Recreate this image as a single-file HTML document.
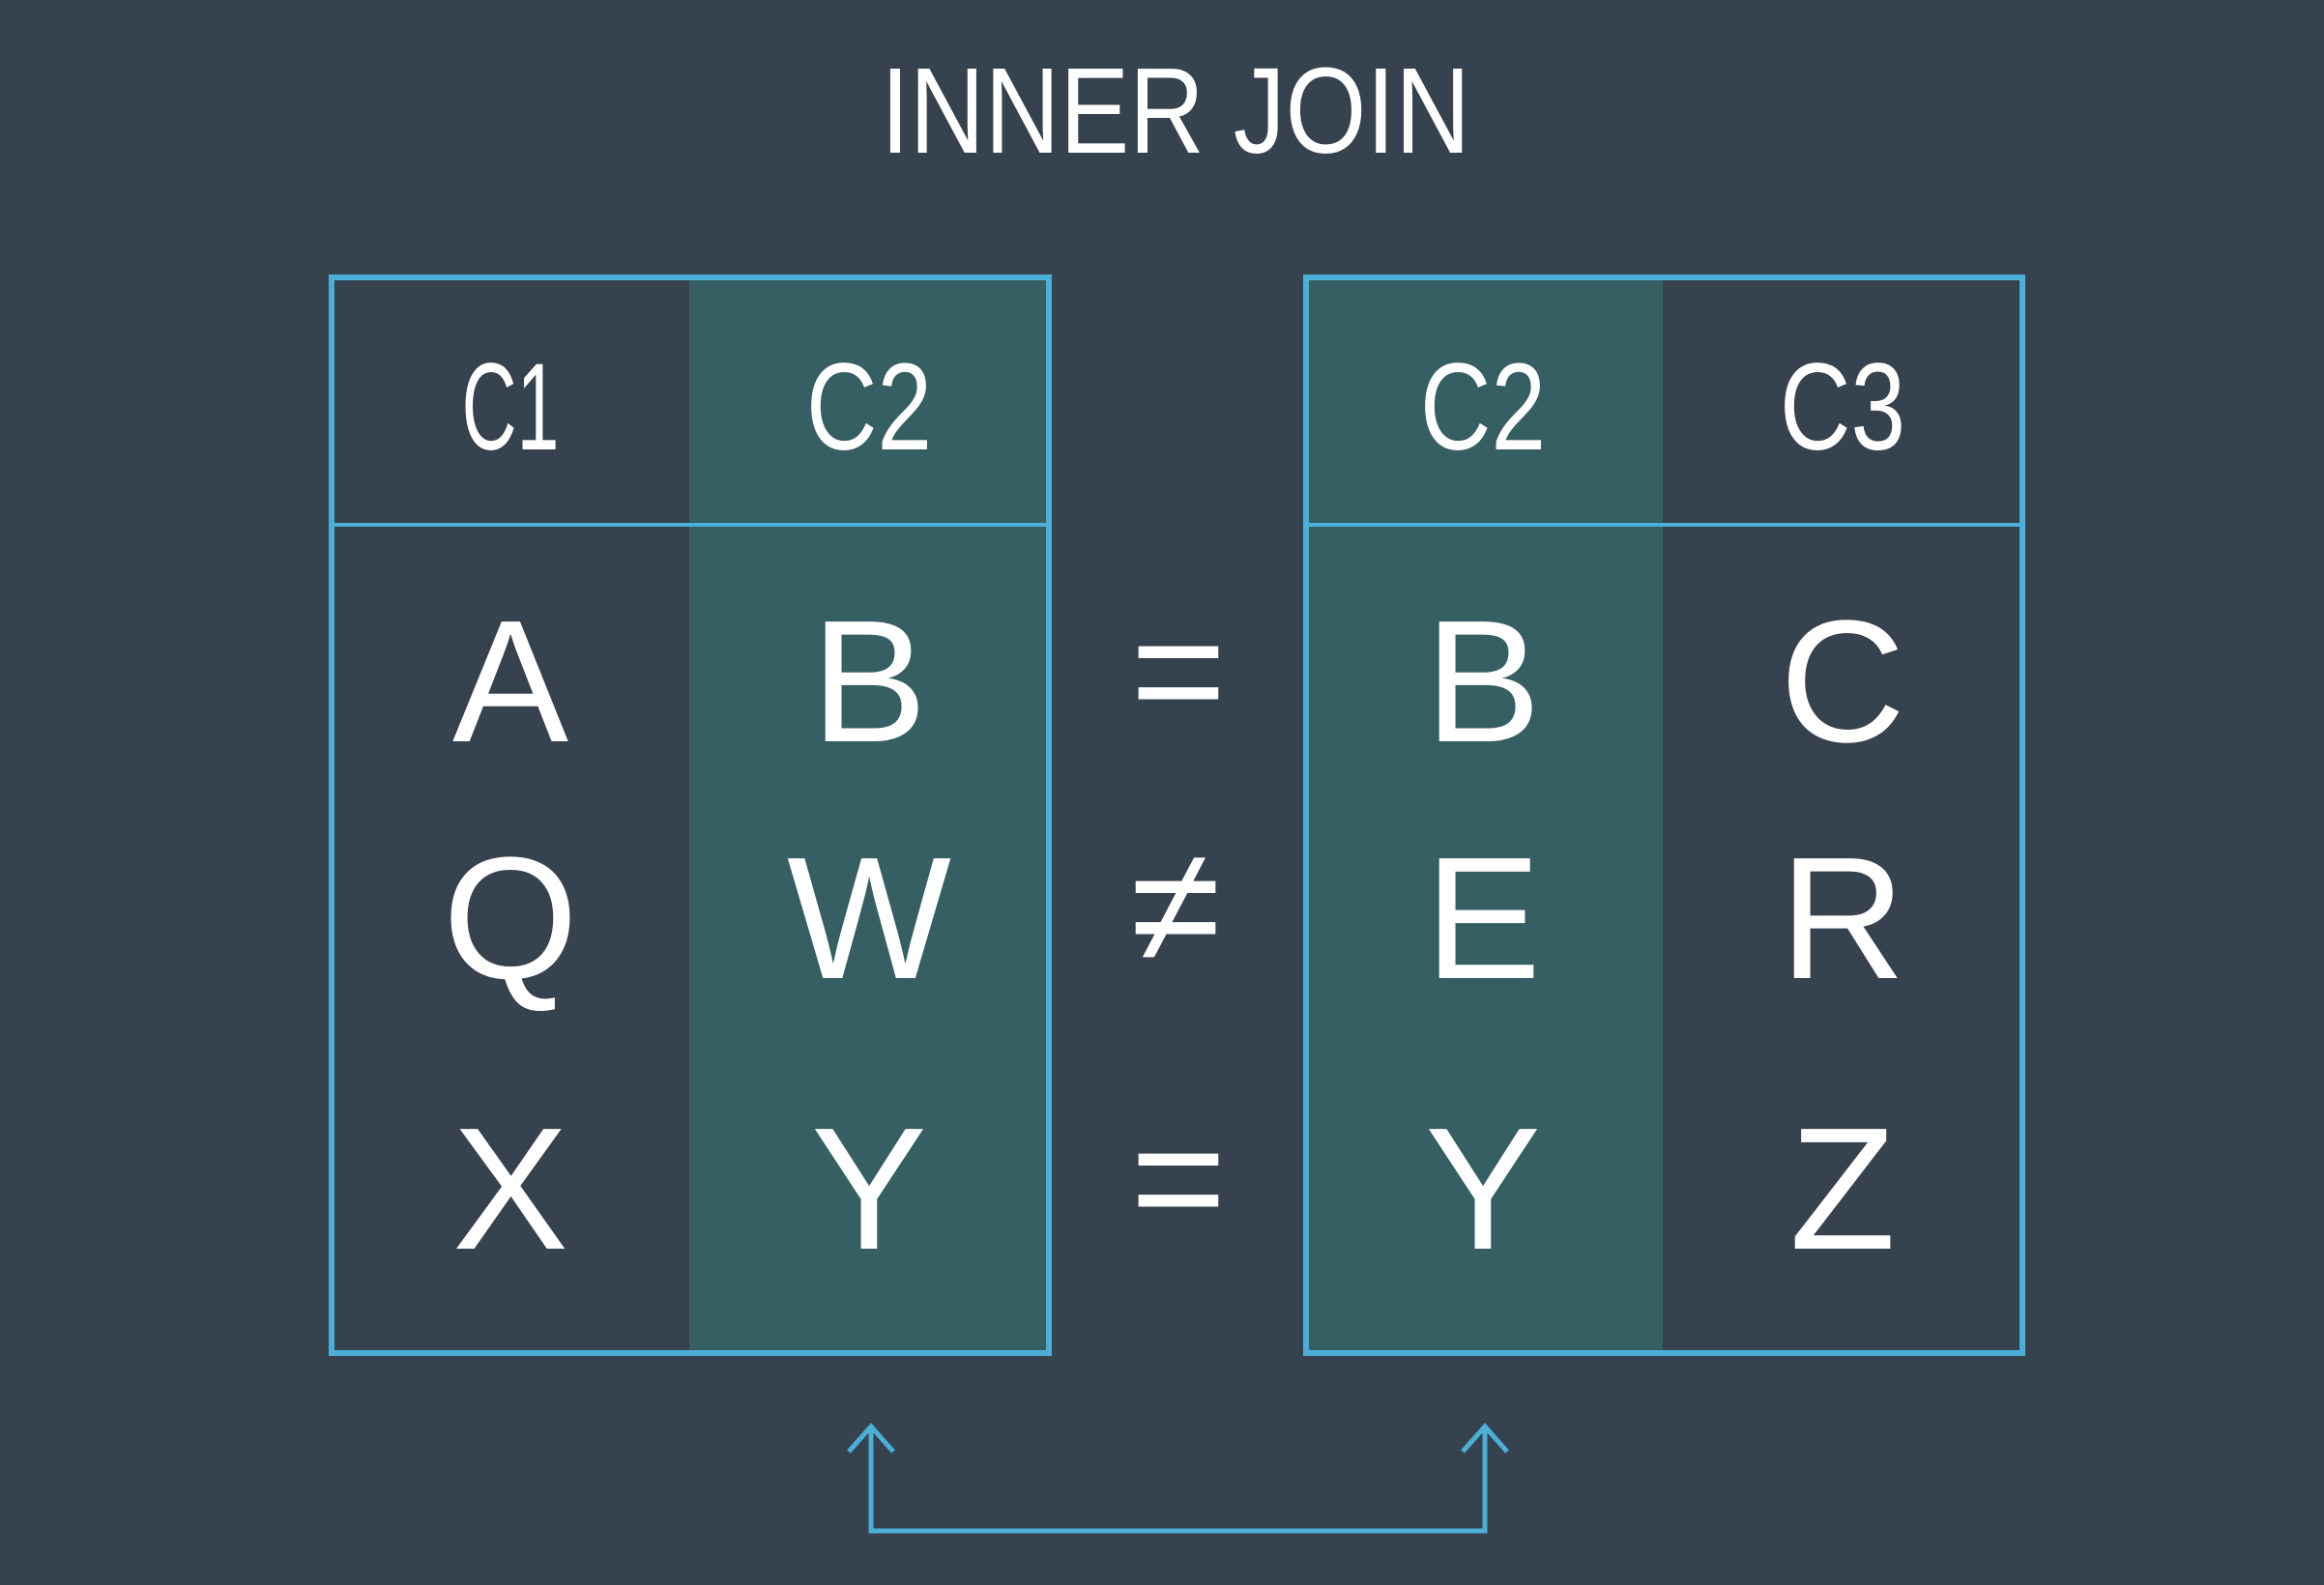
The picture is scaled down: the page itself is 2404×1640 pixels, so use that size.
<!DOCTYPE html>
<html><head><meta charset="utf-8"><style>
html,body{margin:0;padding:0;background:#36434f;}
svg{display:block}
text{font-family:"Liberation Sans",sans-serif;fill:#ffffff;text-anchor:middle}
</style></head><body>
<svg width="2404" height="1640" viewBox="0 0 2404 1640">
<rect x="0" y="0" width="2404" height="1640" fill="#36434f"/>
<text x="1216" y="158" font-size="126" textLength="610" lengthAdjust="spacingAndGlyphs">INNER JOIN</text>

<g>
<rect x="713" y="284" width="372" height="1116" fill="#365f63"/>
<rect x="343" y="287" width="742" height="1113" fill="none" stroke="#4bafd8" stroke-width="6"/>
<line x1="343" y1="543" x2="1085" y2="543" stroke="#4bafd8" stroke-width="4"/>
<text x="528" y="465" font-size="128" textLength="101" lengthAdjust="spacingAndGlyphs">C1</text>
<text x="899" y="465" font-size="128" textLength="130" lengthAdjust="spacingAndGlyphs">C2</text>
<text x="528" y="767" font-size="180">A</text>
<text x="899" y="767" font-size="180">B</text>
<text x="528" y="1012" font-size="180">Q</text>
<text x="899" y="1012" font-size="180">W</text>
<text x="528" y="1292" font-size="180">X</text>
<text x="899" y="1292" font-size="180">Y</text>
</g>

<g>
<rect x="1349" y="284" width="371" height="1116" fill="#365f63"/>
<rect x="1351" y="287" width="741" height="1113" fill="none" stroke="#4bafd8" stroke-width="6"/>
<line x1="1351" y1="543" x2="2092" y2="543" stroke="#4bafd8" stroke-width="4"/>
<text x="1534" y="465" font-size="128" textLength="130" lengthAdjust="spacingAndGlyphs">C2</text>
<text x="1906" y="465" font-size="128" textLength="130" lengthAdjust="spacingAndGlyphs">C3</text>
<text x="1534" y="767" font-size="180">B</text>
<text x="1906" y="767" font-size="180">C</text>
<text x="1534" y="1012" font-size="180">E</text>
<text x="1906" y="1012" font-size="180">R</text>
<text x="1534" y="1292" font-size="180">Y</text>
<text x="1906" y="1292" font-size="180">Z</text>
</g>

<text x="1219" y="752" font-size="170">=</text>
<text x="1216" y="995" font-size="170">≠</text>
<text x="1219" y="1277" font-size="170">=</text>

<g fill="none" stroke="#4bafd8" stroke-width="5">
<polyline points="901,1478 901,1584 1536,1584 1536,1478"/>
<polyline points="878,1502 901,1476 924,1502"/>
<polyline points="1513,1502 1536,1476 1559,1502"/>
</g>
</svg>
</body></html>
